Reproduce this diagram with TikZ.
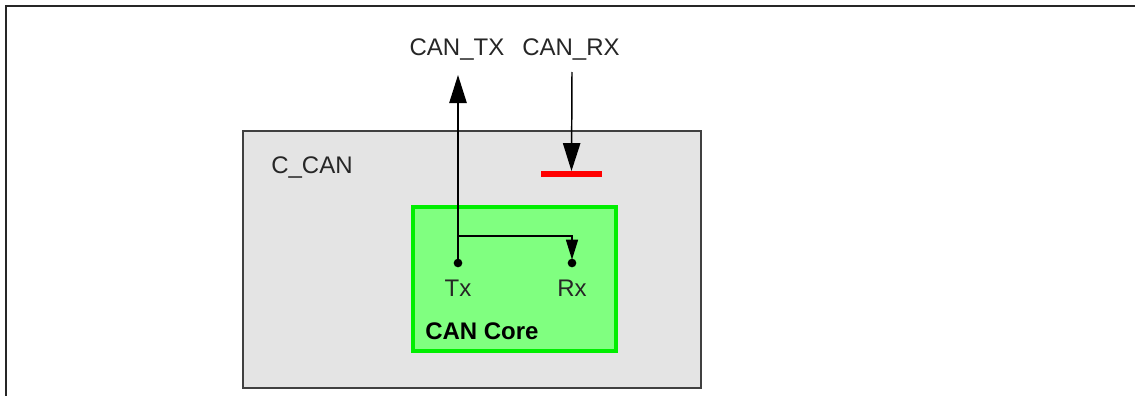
\documentclass[tikz,border=0pt]{standalone}
\usepackage{fontspec}
\setmainfont{Liberation Sans}
\usepackage{xcolor}
\usetikzlibrary{arrows.meta, positioning}

\definecolor{canbg}{HTML}{E4E4E4}
\definecolor{coregreen}{HTML}{80FF80}
\definecolor{coreedge}{HTML}{00EE00}

\begin{document}
\begin{tikzpicture}[
    x=0.75pt, y=-0.75pt,
    block/.style={rectangle, draw=black!75, fill=canbg, line width=1.3pt, inner sep=0pt},
    coreblock/.style={rectangle, draw=coreedge, fill=coregreen, line width=3pt, inner sep=0pt},
    pin/.style={circle, fill=black, inner sep=0pt, minimum size=6.5pt},
    label/.style={font=\fontsize{18}{21}\selectfont, text=black!85, inner sep=0pt},
    signal/.style={-{Triangle[length=21pt, width=13pt]}, line width=1.1pt, black},
    loopback/.style={-{Triangle[length=15pt, width=9pt]}, line width=1.1pt, black, shorten >=2.5pt},
]
\useasboundingbox (0,0) rectangle (1135,396);

% Frame
\draw[line width=1.6pt, black!85] (6,396) |- (1135,6);

% Blocks
\node[block, minimum width=343.5pt, minimum height=192.75pt] (ccan) at (472,259.5) {};
\node[coreblock, minimum width=152.25pt, minimum height=108pt] (core) at (514.5,279) {};
\node[label, anchor=west] (ccanlbl) at (271,168) {C\_CAN};
\node[label, anchor=west, font=\fontsize{18}{21}\selectfont\bfseries, text=black] (corelbl) at (425,331) {CAN Core};

% Pins
\node[pin] (txpin) at (458,263) {};
\node[pin] (rxpin) at (572,263) {};
\node[label] (txlbl) at (458,288) {Tx};
\node[label] (rxlbl) at (572,288) {Rx};

% Signals
\node[label] (cantx) at (457,50) {CAN\_TX};
\node[label] (canrx) at (571,50) {CAN\_RX};
\node[rectangle, fill=red, inner sep=0pt, minimum width=45.75pt, minimum height=4pt] (rxbar) at (571.5,174) {};
\coordinate (txout) at (458,75);
\coordinate (rxin) at (572,72);
\coordinate (tap) at (458,236);

% Arrows
\draw[signal] (txpin.center) -- (txout);
\draw[signal] (rxin) -- (rxbar.north);
\draw[loopback] (tap) -| (rxpin.center);

\end{tikzpicture}
\end{document}
